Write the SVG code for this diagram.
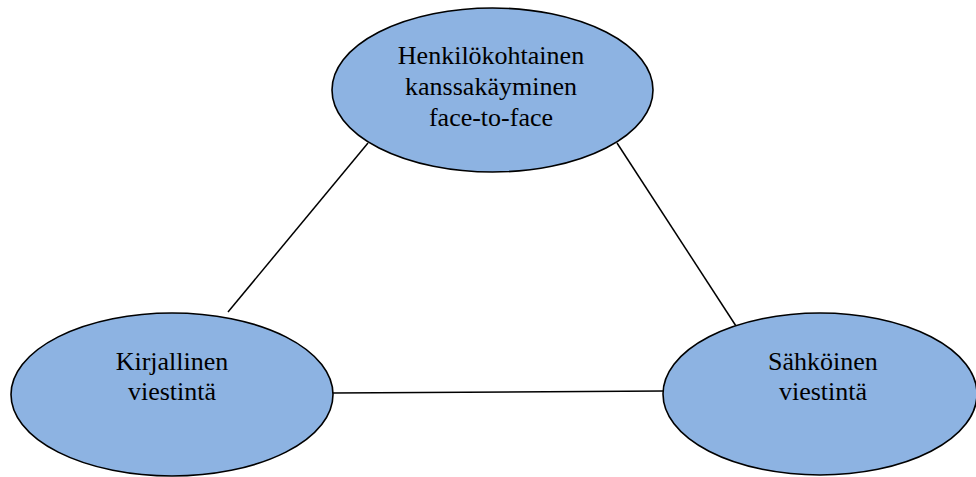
<svg xmlns="http://www.w3.org/2000/svg" width="976" height="477" viewBox="0 0 976 477">
<style>
.n{fill:#8db3e2;stroke:#000;stroke-width:1.6}
.t{font-family:"Liberation Serif","Times New Roman",serif;font-size:26px;fill:#000;text-anchor:middle}
.c{stroke:#000;stroke-width:1.5;fill:none}
</style>
<rect width="976" height="477" fill="#fff"/>
<g id="connectors">
<line class="c" x1="228" y1="312" x2="368" y2="143"/>
<line class="c" x1="617" y1="143" x2="736" y2="326"/>
<line class="c" x1="333" y1="393" x2="663" y2="391"/>
</g>
<g id="node-top">
<ellipse class="n" cx="492.5" cy="90" rx="160.5" ry="82"/>
<text class="t" x="491" y="64">Henkilökohtainen</text>
<text class="t" x="491" y="95">kanssakäyminen</text>
<text class="t" x="491" y="126">face-to-face</text>
</g>
<g id="node-left">
<ellipse class="n" cx="172" cy="394.5" rx="161" ry="81.5"/>
<text class="t" x="172" y="370">Kirjallinen</text>
<text class="t" x="172" y="400">viestintä</text>
</g>
<g id="node-right">
<ellipse class="n" cx="820" cy="394" rx="157" ry="81"/>
<text class="t" x="823" y="370">Sähköinen</text>
<text class="t" x="823" y="400">viestintä</text>
</g>
</svg>
